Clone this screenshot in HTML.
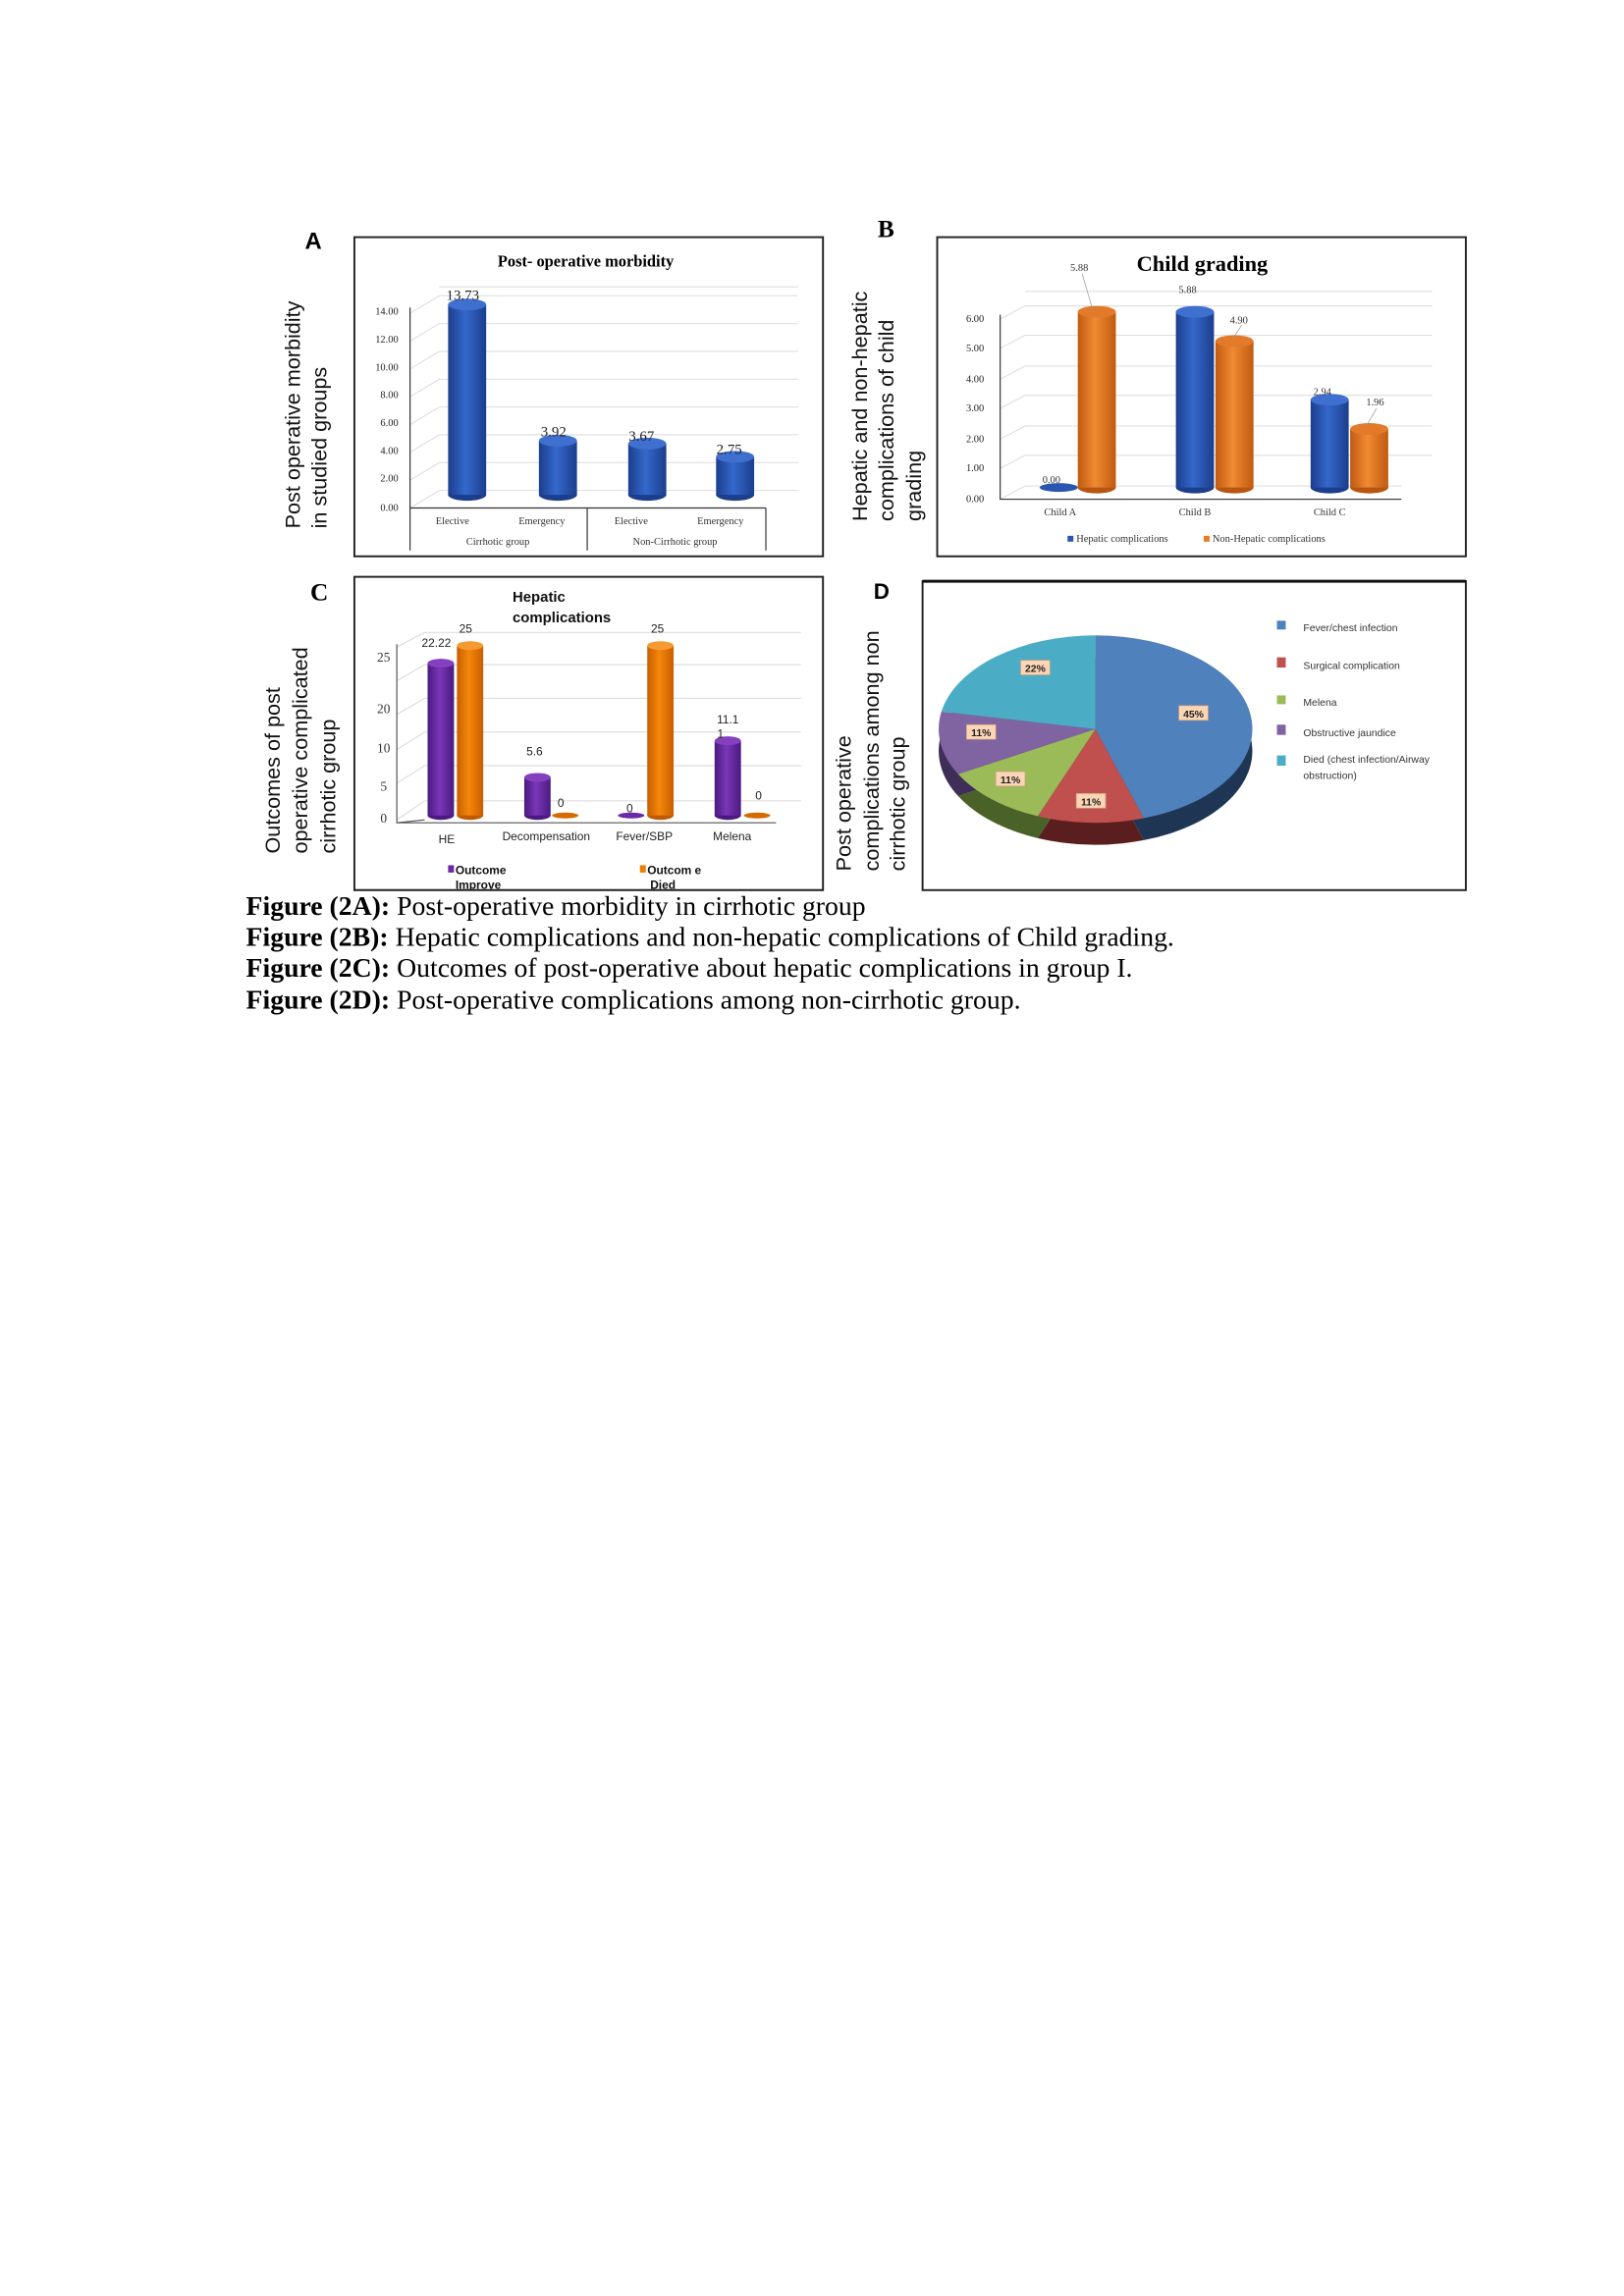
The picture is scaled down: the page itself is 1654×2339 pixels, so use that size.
<!DOCTYPE html>
<html><head><meta charset="utf-8"><style>html,body{margin:0;padding:0;background:#fff}svg{display:block}</style></head>
<body>
<svg width="1654" height="2339" viewBox="0 0 1109 1568.3" xmlns="http://www.w3.org/2000/svg">
<defs>
<linearGradient id="gb" x1="0" x2="1"><stop offset="0" stop-color="#1c3e8c"/><stop offset="0.45" stop-color="#3468cc"/><stop offset="1" stop-color="#1c3e8c"/></linearGradient>
<linearGradient id="go" x1="0" x2="1"><stop offset="0" stop-color="#c05a10"/><stop offset="0.45" stop-color="#f08a33"/><stop offset="1" stop-color="#c05a10"/></linearGradient>
<linearGradient id="gp" x1="0" x2="1"><stop offset="0" stop-color="#4a1a80"/><stop offset="0.45" stop-color="#7a36b8"/><stop offset="1" stop-color="#4a1a80"/></linearGradient>
<linearGradient id="go2" x1="0" x2="1"><stop offset="0" stop-color="#c85f00"/><stop offset="0.45" stop-color="#f5860a"/><stop offset="1" stop-color="#c85f00"/></linearGradient>
</defs>
<rect width="1110" height="1570" fill="#fff"/>

<!-- ===== A ===== -->
<text x="214" y="170" font-family="Liberation Sans,sans-serif" font-weight="bold" font-size="16" text-anchor="middle">A</text>
<rect x="242" y="162" width="320" height="218" fill="none" stroke="#222" stroke-width="1.3"/>
<text x="400" y="182" font-family="Liberation Serif,serif" font-weight="bold" font-size="11" text-anchor="middle">Post- operative morbidity</text>
<g stroke="#ddd" stroke-width="0.7" fill="none">
<path d="M280 347 L300 335 H545 M280 328 L300 316 H545 M280 309 L300 297 H545 M280 290 L300 278 H545 M280 271 L300 259 H545 M280 252 L300 240 H545 M280 233 L300 221 H545 M280 214 L300 202 H545 M300 196 H545"/>
</g>
<g font-family="Liberation Serif,serif" font-size="7" text-anchor="end" fill="#222">
<text x="272" y="215">14.00</text><text x="272" y="234">12.00</text><text x="272" y="253">10.00</text><text x="272" y="272">8.00</text><text x="272" y="291">6.00</text><text x="272" y="310">4.00</text><text x="272" y="329">2.00</text><text x="272" y="349">0.00</text>
</g>
<path d="M280 210 V376 M280 347 H523 M401 347 V376 M523 347 V376" stroke="#333" stroke-width="0.8" fill="none"/>
<g font-family="Liberation Serif,serif" font-size="7" text-anchor="middle" fill="#333">
<text x="309" y="358">Elective</text><text x="370" y="358">Emergency</text><text x="431" y="358">Elective</text><text x="492" y="358">Emergency</text>
<text x="340" y="372">Cirrhotic group</text><text x="461" y="372">Non-Cirrhotic group</text>
</g>
<g>
<ellipse cx="319" cy="338" rx="13" ry="4" fill="#1c3e8c"/><rect x="306" y="208" width="26" height="130" fill="url(#gb)"/><ellipse cx="319" cy="208" rx="13" ry="4" fill="#3f70d0"/>
<ellipse cx="381" cy="338" rx="13" ry="4" fill="#1c3e8c"/><rect x="368" y="301" width="26" height="37" fill="url(#gb)"/><ellipse cx="381" cy="301" rx="13" ry="4" fill="#3f70d0"/>
<ellipse cx="442" cy="338" rx="13" ry="4" fill="#1c3e8c"/><rect x="429" y="303" width="26" height="35" fill="url(#gb)"/><ellipse cx="442" cy="303" rx="13" ry="4" fill="#3f70d0"/>
<ellipse cx="502" cy="338" rx="13" ry="4" fill="#1c3e8c"/><rect x="489" y="312" width="26" height="26" fill="url(#gb)"/><ellipse cx="502" cy="312" rx="13" ry="4" fill="#3f70d0"/>
</g>
<g font-family="Liberation Serif,serif" font-size="10" text-anchor="middle" fill="#222">
<text x="316" y="205">13.73</text><text x="378" y="298">3.92</text><text x="438" y="301">3.67</text><text x="498" y="310">2.75</text>
</g>
<g font-family="Liberation Sans,sans-serif" font-size="14.5" fill="#111">
<text transform="translate(205,361) rotate(-90)">Post operative morbidity</text>
<text transform="translate(223,361) rotate(-90)">in studied groups</text>
</g>

<!-- ===== B ===== -->
<text x="605" y="162" font-family="Liberation Serif,serif" font-weight="bold" font-size="17" text-anchor="middle">B</text>
<rect x="640" y="162" width="361" height="218" fill="none" stroke="#222" stroke-width="1.3"/>
<text x="821" y="185" font-family="Liberation Serif,serif" font-weight="bold" font-size="15" text-anchor="middle">Child grading</text>
<g stroke="#ddd" stroke-width="0.7" fill="none">
<path d="M683 341 L700 332 H957 M683 320 L700 311 H978 M683 300 L700 291 H978 M683 279 L700 270 H978 M683 259 L700 250 H978 M683 238 L700 229 H978 M683 218 L700 209 H978 M700 199 H978"/>
</g>
<g font-family="Liberation Serif,serif" font-size="7" text-anchor="end" fill="#222">
<text x="672" y="220">6.00</text><text x="672" y="240">5.00</text><text x="672" y="261">4.00</text><text x="672" y="281">3.00</text><text x="672" y="302">2.00</text><text x="672" y="322">1.00</text><text x="672" y="343">0.00</text>
</g>
<path d="M683 215 V341 H957" stroke="#333" stroke-width="0.8" fill="none"/>
<g font-family="Liberation Serif,serif" font-size="7" text-anchor="middle" fill="#333">
<text x="724" y="352">Child A</text><text x="816" y="352">Child B</text><text x="908" y="352">Child C</text>
</g>
<g>
<ellipse cx="723" cy="333" rx="13" ry="3" fill="#2a55b0"/>
<ellipse cx="749" cy="333" rx="13" ry="4" fill="#b85510"/><rect x="736" y="213" width="26" height="120" fill="url(#go)"/><ellipse cx="749" cy="213" rx="13" ry="4" fill="#e27a2a"/>
<ellipse cx="816" cy="333" rx="13" ry="4" fill="#1c3e8c"/><rect x="803" y="213" width="26" height="120" fill="url(#gb)"/><ellipse cx="816" cy="213" rx="13" ry="4" fill="#3f70d0"/>
<ellipse cx="843" cy="333" rx="13" ry="4" fill="#b85510"/><rect x="830" y="233" width="26" height="100" fill="url(#go)"/><ellipse cx="843" cy="233" rx="13" ry="4" fill="#e27a2a"/>
<ellipse cx="908" cy="333" rx="13" ry="4" fill="#1c3e8c"/><rect x="895" y="273" width="26" height="60" fill="url(#gb)"/><ellipse cx="908" cy="273" rx="13" ry="4" fill="#3f70d0"/>
<ellipse cx="935" cy="333" rx="13" ry="4" fill="#b85510"/><rect x="922" y="293" width="26" height="40" fill="url(#go)"/><ellipse cx="935" cy="293" rx="13" ry="4" fill="#e27a2a"/>
</g>
<path d="M739 187 L746 211 M848 222 L842 231 M940 279 L933 291" stroke="#999" stroke-width="0.5"/>
<g font-family="Liberation Serif,serif" font-size="7" text-anchor="middle" fill="#333">
<text x="737" y="185">5.88</text><text x="811" y="200">5.88</text><text x="846" y="221">4.90</text><text x="903" y="270">2.94</text><text x="939" y="277">1.96</text><text x="718" y="330">0.00</text>
</g>
<rect x="729" y="366" width="4" height="4" fill="#2a55b0"/><text x="735" y="370" font-family="Liberation Serif,serif" font-size="7" fill="#333">Hepatic complications</text>
<rect x="822" y="366" width="4" height="4" fill="#e87b26"/><text x="828" y="370" font-family="Liberation Serif,serif" font-size="7" fill="#333">Non-Hepatic complications</text>
<g font-family="Liberation Sans,sans-serif" font-size="14.5" fill="#111">
<text transform="translate(592,356) rotate(-90)">Hepatic and non-hepatic</text>
<text transform="translate(610,356) rotate(-90)">complications of child</text>
<text transform="translate(629,356) rotate(-90)">grading</text>
</g>

<!-- ===== C ===== -->
<text x="218" y="410" font-family="Liberation Serif,serif" font-weight="bold" font-size="17" text-anchor="middle">C</text>
<rect x="242" y="394" width="320" height="214" fill="none" stroke="#222" stroke-width="1.3"/>
<g font-family="Liberation Sans,sans-serif" font-weight="bold" font-size="10" fill="#111">
<text x="350" y="411">Hepatic</text><text x="350" y="425">complications</text>
</g>
<g stroke="#ddd" stroke-width="0.8" fill="none">
<path d="M290 432 H547 M290 454 H547 M290 477 H547 M290 500 H547 M290 523 H547 M290 547 H547 M271 560 L290 547 M271 535 L290 523 M271 512 L290 500 M271 488 L290 477 M271 465 L290 454 M271 442 L290 432"/>
</g>
<path d="M271 440 V562 L290 560 M271 562 H530" stroke="#555" stroke-width="0.8" fill="none"/>
<g font-family="Liberation Serif,serif" font-size="9" text-anchor="middle" fill="#333">
<text x="262" y="452">25</text><text x="262" y="487">20</text><text x="262" y="514">10</text><text x="262" y="540">5</text><text x="262" y="562">0</text>
</g>
<g>
<ellipse cx="301" cy="557" rx="9" ry="3" fill="#4a1a80"/><rect x="292" y="453" width="18" height="104" fill="url(#gp)"/><ellipse cx="301" cy="453" rx="9" ry="3" fill="#8540c0"/>
<ellipse cx="321" cy="557" rx="9" ry="3" fill="#c05a00"/><rect x="312" y="441" width="18" height="116" fill="url(#go2)"/><ellipse cx="321" cy="441" rx="9" ry="3" fill="#f59a30"/>
<ellipse cx="367" cy="557" rx="9" ry="3" fill="#4a1a80"/><rect x="358" y="531" width="18" height="26" fill="url(#gp)"/><ellipse cx="367" cy="531" rx="9" ry="3" fill="#8540c0"/>
<ellipse cx="386" cy="557" rx="9" ry="2" fill="#d56b00"/>
<ellipse cx="431" cy="557" rx="9" ry="2" fill="#6a2aa8"/>
<ellipse cx="451" cy="557" rx="9" ry="3" fill="#c05a00"/><rect x="442" y="441" width="18" height="116" fill="url(#go2)"/><ellipse cx="451" cy="441" rx="9" ry="3" fill="#f59a30"/>
<ellipse cx="497" cy="557" rx="9" ry="3" fill="#4a1a80"/><rect x="488" y="506" width="18" height="51" fill="url(#gp)"/><ellipse cx="497" cy="506" rx="9" ry="3" fill="#8540c0"/>
<ellipse cx="517" cy="557" rx="9" ry="2" fill="#d56b00"/>
</g>
<g font-family="Liberation Sans,sans-serif" font-size="8" text-anchor="middle" fill="#222">
<text x="298" y="442">22.22</text><text x="318" y="432">25</text><text x="365" y="516">5.6</text><text x="383" y="551">0</text><text x="430" y="555">0</text><text x="449" y="432">25</text><text x="497" y="494">11.1</text><text x="492" y="504">1</text><text x="518" y="546">0</text>
<text x="305" y="576">HE</text><text x="373" y="574">Decompensation</text><text x="440" y="574">Fever/SBP</text><text x="500" y="574">Melena</text>
</g>
<g font-family="Liberation Sans,sans-serif" font-weight="bold" font-size="8" fill="#111">
<rect x="306" y="591" width="4" height="5" fill="#6a2aa8"/><text x="311" y="597">Outcome</text><text x="311" y="607">Improve</text>
<rect x="437" y="591" width="4" height="5" fill="#ef7c00"/><text x="442" y="597">Outcom e</text><text x="444" y="607">Died</text>
</g>
<rect x="243" y="607.5" width="318" height="3" fill="#fff"/>
<line x1="242" y1="608" x2="562" y2="608" stroke="#222" stroke-width="1.3"/>
<g font-family="Liberation Sans,sans-serif" font-size="14.5" fill="#111">
<text transform="translate(191,583) rotate(-90)">Outcomes of post</text>
<text transform="translate(210,583) rotate(-90)">operative complicated</text>
<text transform="translate(229,583) rotate(-90)">cirrhotic group</text>
</g>

<!-- ===== D ===== -->
<text x="602" y="409" font-family="Liberation Sans,sans-serif" font-weight="bold" font-size="15" text-anchor="middle">D</text>
<rect x="630" y="397" width="371" height="211" fill="none" stroke="#222" stroke-width="1.3"/>
<line x1="630" y1="397" x2="1001" y2="397" stroke="#111" stroke-width="2"/>
<g transform="translate(0,15)">
<path d="M748 498 L748 434 A107 64 0 0 1 781.1 558.9 Z" fill="#1e3553"/>
<path d="M748 498 L781.1 558.9 A107 64 0 0 1 708.6 557.5 Z" fill="#5a1e1e"/>
<path d="M748 498 L708.6 557.5 A107 64 0 0 1 654.3 528.8 Z" fill="#4a6228"/>
<path d="M748 498 L654.3 528.8 A107 64 0 0 1 642.9 486 Z" fill="#3f2f58"/>
<path d="M748 498 L642.9 486 A107 64 0 0 1 748 434 Z" fill="#25606e"/>
</g>
<path d="M748 498 L748 434 A107 64 0 0 1 781.1 558.9 Z" fill="#4f81bd"/>
<path d="M748 498 L781.1 558.9 A107 64 0 0 1 708.6 557.5 Z" fill="#c0504d"/>
<path d="M748 498 L708.6 557.5 A107 64 0 0 1 654.3 528.8 Z" fill="#9bbb59"/>
<path d="M748 498 L654.3 528.8 A107 64 0 0 1 642.9 486 Z" fill="#8064a2"/>
<path d="M748 498 L642.9 486 A107 64 0 0 1 748 434 Z" fill="#4bacc6"/>
<g font-family="Liberation Sans,sans-serif" font-weight="bold" font-size="7" text-anchor="middle" fill="#222">
<rect x="805" y="482" width="20" height="10" fill="#fbd5b5" stroke="#c9a07a" stroke-width="0.5"/><text x="815" y="490">45%</text>
<rect x="735" y="542" width="20" height="10" fill="#fbd5b5" stroke="#c9a07a" stroke-width="0.5"/><text x="745" y="550">11%</text>
<rect x="680" y="527" width="20" height="10" fill="#fbd5b5" stroke="#c9a07a" stroke-width="0.5"/><text x="690" y="535">11%</text>
<rect x="660" y="495" width="20" height="10" fill="#fbd5b5" stroke="#c9a07a" stroke-width="0.5"/><text x="670" y="503">11%</text>
<rect x="697" y="451" width="20" height="10" fill="#fbd5b5" stroke="#c9a07a" stroke-width="0.5"/><text x="707" y="459">22%</text>
</g>
<g font-family="Liberation Sans,sans-serif" font-size="7" fill="#333">
<rect x="872" y="424" width="6" height="6" fill="#4f81bd"/><text x="890" y="431">Fever/chest infection</text>
<rect x="872" y="449" width="6" height="7" fill="#c0504d"/><text x="890" y="457">Surgical complication</text>
<rect x="872" y="475" width="6" height="6" fill="#9bbb59"/><text x="890" y="482">Melena</text>
<rect x="872" y="495" width="6" height="7" fill="#8064a2"/><text x="890" y="503">Obstructive jaundice</text>
<rect x="872" y="516" width="6" height="7" fill="#4bacc6"/><text x="890" y="521">Died (chest infection/Airway</text><text x="890" y="532">obstruction)</text>
</g>
<g font-family="Liberation Sans,sans-serif" font-size="14.5" fill="#111">
<text transform="translate(581,595) rotate(-90)">Post operative</text>
<text transform="translate(600,595) rotate(-90)">complications among non</text>
<text transform="translate(618,595) rotate(-90)">cirrhotic group</text>
</g>

<!-- ===== Captions ===== -->
<g font-family="Liberation Serif,serif" font-size="18.6" fill="#000">
<text x="168" y="625"><tspan font-weight="bold">Figure (2A):</tspan> Post-operative morbidity in cirrhotic group</text>
<text x="168" y="646"><tspan font-weight="bold">Figure (2B):</tspan> Hepatic complications and non-hepatic complications of Child grading.</text>
<text x="168" y="667"><tspan font-weight="bold">Figure (2C):</tspan> Outcomes of post-operative about hepatic complications in group I.</text>
<text x="168" y="689"><tspan font-weight="bold">Figure (2D):</tspan> Post-operative complications among non-cirrhotic group.</text>
</g>
</svg>
</body></html>
